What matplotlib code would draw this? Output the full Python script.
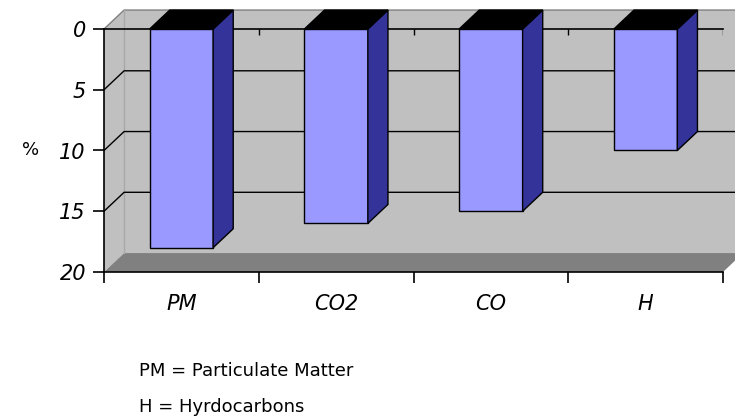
import matplotlib.pyplot as plt
from matplotlib.patches import Polygon

# === DATA ===
categories = ['PM', 'CO2', 'CO', 'H']
values = [18, 16, 15, 10]
y_ticks = [0, 5, 10, 15, 20]
notes = ['PM = Particulate Matter', 'H = Hyrdocarbons']

# === STYLE ===
FRONT = '#9999FF'
SIDE = '#333399'
TOP = '#000000'
WALL = '#C0C0C0'
FLOOR = '#808080'
BAR_W = 0.41
DX = 0.13      # depth offset along x (data units)
DY = 1.56      # depth offset along value axis (data units)
YMAX = 20

fig = plt.figure(figsize=(7.35, 4.19), dpi=100)
ax = fig.add_axes([104 / 735, 147 / 419, 619 / 735, 243 / 419])
ax.set_xlim(0, len(categories))
ax.set_ylim(YMAX, 0)
ax.set_facecolor('none')

n = len(categories)

# back wall, left wall, floor
walls = [
    ([(DX, -DY), (n + DX, -DY), (n + DX, YMAX - DY), (DX, YMAX - DY)], WALL),
    ([(0, 0), (DX, -DY), (DX, YMAX - DY), (0, YMAX)], WALL),
    ([(0, YMAX), (n, YMAX), (n + DX, YMAX - DY), (DX, YMAX - DY)], FLOOR),
]
for pts, col in walls:
    ax.add_patch(Polygon(pts, closed=True, facecolor=col, edgecolor='none',
                         clip_on=False, zorder=0))

# wall outline
ax.plot([0, DX, n + DX], [0, -DY, -DY], color='#808080', lw=1, clip_on=False, zorder=0.5)
ax.plot([DX, DX], [-DY, YMAX - DY], color='#A8A8A8', lw=1, clip_on=False, zorder=0.5)

# gridlines on back and left walls
for v in y_ticks[1:-1]:
    ax.plot([0, DX, n + DX], [v, v - DY, v - DY], color='black', lw=1,
            clip_on=False, zorder=0.6)

# bars
x = [i + 0.5 for i in range(n)]
ax.bar(x, values, BAR_W, color=FRONT, edgecolor='black', linewidth=1, zorder=3)
for xi, v in zip(x, values):
    left = xi - BAR_W / 2
    right = xi + BAR_W / 2
    side = [(right, 0), (right + DX, -DY), (right + DX, v - DY), (right, v)]
    top = [(left, 0), (left + DX, -DY), (right + DX, -DY), (right, 0)]
    ax.add_patch(Polygon(side, closed=True, facecolor=SIDE, edgecolor='black',
                         lw=1, clip_on=False, zorder=3))
    ax.add_patch(Polygon(top, closed=True, facecolor=TOP, edgecolor='black',
                         lw=1, clip_on=False, zorder=3))

# category ticks on the top line
ax.vlines(range(1, n + 1), 0, 0.5, color='black', lw=1, zorder=2)

# axes
ax.spines['right'].set_visible(False)
for s in ['left', 'top', 'bottom']:
    ax.spines[s].set_linewidth(1.2)

ax.set_yticks(y_ticks)
ax.set_yticklabels([str(t) for t in y_ticks], fontsize=15, style='italic')
ax.tick_params(axis='y', length=8, width=1.2, pad=5)

ax.set_xticks(range(n + 1))
ax.set_xticklabels([])
ax.tick_params(axis='x', which='major', length=8, width=1.2)
ax.set_xticks(x, minor=True)
ax.set_xticklabels(categories, minor=True, fontsize=15, style='italic')
ax.tick_params(axis='x', which='minor', length=0, pad=16)

fig.text(22 / 735, 1 - 150 / 419, '%', fontsize=13, ha='left', va='center')
fig.text(139 / 735, 1 - 371 / 419, notes[0], fontsize=13, ha='left', va='center')
fig.text(139 / 735, 1 - 407 / 419, notes[1], fontsize=13, ha='left', va='center')

fig.savefig('out.png', dpi=100)
